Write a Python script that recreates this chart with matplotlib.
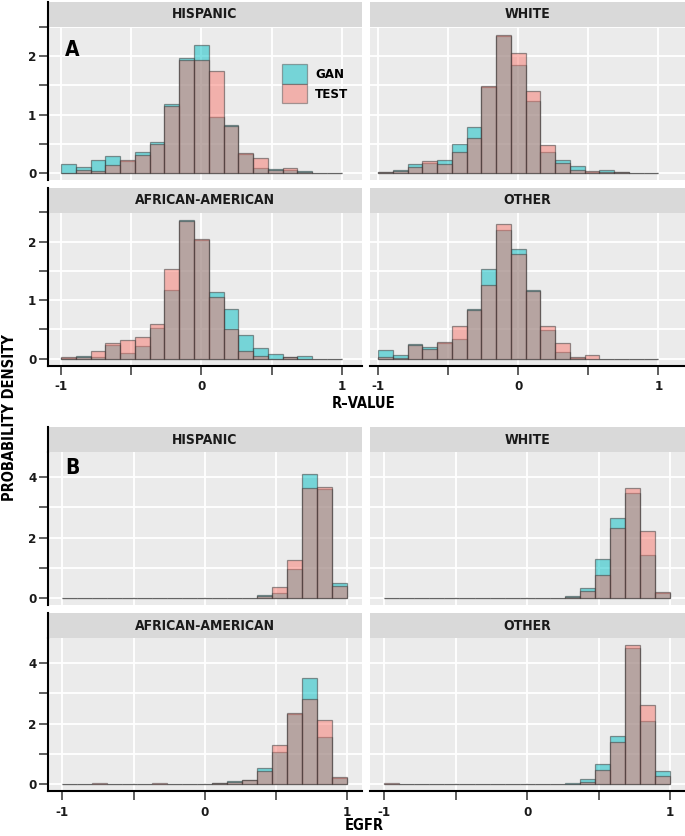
import numpy as np
import matplotlib.pyplot as plt
from matplotlib.patches import Patch

plt.rcParams['font.family'] = ['DejaVu Sans']
plt.rcParams['font.stretch'] = 'condensed'
plt.rcParams['font.weight'] = 'bold'

# 19 bins between -1 and 1
edges = np.linspace(-1, 1, 20)

# Panel A: R-value densities
r_hisp_gan = [0.155, 0.10, 0.217, 0.286, 0.206, 0.366, 0.537, 1.19, 1.966, 2.19,
              0.954, 0.829, 0.32, 0.09, 0.069, 0.057, 0.034, 0.0, 0.0]
r_hisp_test = [0.005, 0.06, 0.04, 0.137, 0.217, 0.309, 0.49, 1.14, 1.943, 1.943,
               1.743, 0.806, 0.349, 0.251, 0.057, 0.09, 0.02, 0.0, 0.0]
r_white_gan = [0.023, 0.05, 0.16, 0.166, 0.217, 0.49, 0.783, 1.47, 2.35, 1.846,
               1.229, 0.354, 0.217, 0.12, 0.025, 0.046, 0.023, 0.003, 0.0]
r_white_test = [0.01, 0.04, 0.10, 0.21, 0.149, 0.354, 0.606, 1.486, 2.36, 2.057,
                1.40, 0.474, 0.166, 0.057, 0.03, 0.023, 0.017, 0.003, 0.0]
r_afr_gan = [0.005, 0.05, 0.023, 0.23, 0.10, 0.217, 0.52, 1.177, 2.377, 2.029,
             1.143, 0.846, 0.406, 0.183, 0.08, 0.02, 0.046, 0.0, 0.0]
r_afr_test = [0.023, 0.03, 0.13, 0.27, 0.326, 0.377, 0.594, 1.53, 2.349, 2.051,
              1.057, 0.509, 0.131, 0.046, 0.0, 0.03, 0.0, 0.0, 0.0]
r_other_gan = [0.154, 0.057, 0.251, 0.20, 0.263, 0.331, 0.851, 1.526, 2.194, 1.88,
               1.166, 0.491, 0.114, 0.011, 0.0, 0.0, 0.0, 0.0, 0.0]
r_other_test = [0.034, 0.005, 0.234, 0.166, 0.286, 0.554, 0.823, 1.263, 2.297, 1.783,
                1.149, 0.554, 0.263, 0.023, 0.057, 0.0, 0.0, 0.0, 0.0]

# Panel B: EGFR densities
e_hisp_gan = [0, 0, 0, 0, 0, 0, 0, 0, 0, 0.01,
              0, 0, 0.01, 0.09, 0.176, 0.948, 4.11, 3.625, 0.507]
e_hisp_test = [0, 0, 0, 0, 0, 0, 0, 0, 0, 0.01,
               0, 0, 0.01, 0.08, 0.375, 1.267, 3.647, 3.68, 0.408]
e_white_gan = [0, 0, 0, 0, 0, 0, 0, 0, 0, 0,
               0, 0.01, 0.066, 0.32, 1.30, 2.656, 3.482, 1.432, 0.165]
e_white_test = [0, 0, 0, 0, 0, 0, 0, 0, 0, 0,
                0, 0.005, 0.033, 0.22, 0.77, 2.325, 3.647, 2.226, 0.198]
e_afr_gan = [0, 0, 0, 0, 0, 0, 0, 0, 0, 0,
             0.02, 0.10, 0.14, 0.54, 1.058, 2.336, 3.526, 1.565, 0.198]
e_afr_test = [0, 0, 0.02, 0, 0, 0, 0.02, 0, 0, 0,
              0.02, 0.066, 0.145, 0.43, 1.278, 2.358, 2.81, 2.127, 0.22]
e_other_gan = [0, 0, 0, 0, 0, 0, 0, 0, 0, 0,
               0, 0, 0.033, 0.165, 0.661, 1.576, 4.507, 2.083, 0.43]
e_other_test = [0.02, 0, 0, 0, 0, 0, 0, 0, 0, 0,
                0, 0, 0.01, 0.077, 0.463, 1.40, 4.606, 2.623, 0.264]

groups = ['HISPANIC', 'WHITE', 'AFRICAN-AMERICAN', 'OTHER']
series = ['GAN', 'TEST']

GAN_COLOR = '#00BFC4'
TEST_COLOR = '#F8766D'
W, H = 685, 836

fig = plt.figure(figsize=(W / 100, H / 100), dpi=100)
fig.patch.set_facecolor('white')


def px_axes(x0, y0, x1, y1):
    return fig.add_axes([x0 / W, 1 - y1 / H, (x1 - x0) / W, (y1 - y0) / H])


def panel(box, strip_box, title, gan, test, xlim, ylim, yticks, ylabels,
          left_col, bottom_row):
    ax = px_axes(*box)
    ax.set_facecolor('#EBEBEB')
    ax.bar(edges[:-1], gan, width=np.diff(edges), align='edge',
           color=GAN_COLOR, alpha=0.5, edgecolor='#333333', linewidth=0.9, zorder=2)
    ax.bar(edges[:-1], test, width=np.diff(edges), align='edge',
           color=TEST_COLOR, alpha=0.5, edgecolor='#333333', linewidth=0.9, zorder=3)
    ax.set_xlim(*xlim)
    ax.set_ylim(*ylim)
    ax.set_xticks([-1, -0.5, 0, 0.5, 1])
    ax.set_yticks(yticks)
    ax.grid(True, color='white', linewidth=1.3, zorder=0)
    ax.set_axisbelow(True)
    for s in ax.spines.values():
        s.set_visible(False)
    ax.tick_params(axis='both', length=6.5, width=1.1, color='#333333',
                   labelsize=9.5, pad=2, labelcolor='#1a1a1a')
    if left_col:
        ax.spines['left'].set_visible(True)
        ax.spines['left'].set_linewidth(1.5)
        ax.set_yticklabels(ylabels)
    else:
        ax.tick_params(axis='y', left=False, labelleft=False)
    if bottom_row:
        ax.spines['bottom'].set_visible(True)
        ax.spines['bottom'].set_linewidth(1.5)
        ax.set_xticklabels(['-1', '', '0', '', '1'])
        ax.tick_params(axis='x', pad=4)
    else:
        ax.tick_params(axis='x', bottom=False, labelbottom=False)

    st = px_axes(*strip_box)
    st.set_facecolor('#D9D9D9')
    st.set_xticks([])
    st.set_yticks([])
    for s in st.spines.values():
        s.set_visible(False)
    if left_col:
        st.spines['left'].set_visible(True)
        st.spines['left'].set_linewidth(1.5)
    st.text(0.5, 0.5, title, ha='center', va='center', fontsize=10,
            fontweight='bold', color='#1a1a1a', transform=st.transAxes)
    return ax


# column/row boxes in pixels
cols = [(48.3, 361.7), (370, 685)]
a_rows = [(27, 180), (212.5, 365.5)]
a_strips = [(2, 27), (187.5, 212.5)]
b_rows = [(452, 605), (638, 791)]
b_strips = [(427, 452), (613, 638)]

r_data = [(r_hisp_gan, r_hisp_test), (r_white_gan, r_white_test),
          (r_afr_gan, r_afr_test), (r_other_gan, r_other_test)]
e_data = [(e_hisp_gan, e_hisp_test), (e_white_gan, e_white_test),
          (e_afr_gan, e_afr_test), (e_other_gan, e_other_test)]

a_xlims = [(-1.0905, 1.1425), (-1.059, 1.19)]
b_xlims = [(-1.098, 1.101), (-1.1, 1.105)]

a_axes = []
for i, g in enumerate(groups):
    r, c = divmod(i, 2)
    ax = panel((cols[c][0], a_rows[r][0], cols[c][1], a_rows[r][1]),
               (cols[c][0], a_strips[r][0], cols[c][1], a_strips[r][1]),
               g, r_data[i][0], r_data[i][1], a_xlims[c], (-0.119, 2.496),
               [0, 0.5, 1, 1.5, 2, 2.5], ['0', '', '1', '', '2', ''],
               c == 0, r == 1)
    a_axes.append(ax)

for i, g in enumerate(groups):
    r, c = divmod(i, 2)
    panel((cols[c][0], b_rows[r][0], cols[c][1], b_rows[r][1]),
          (cols[c][0], b_strips[r][0], cols[c][1], b_strips[r][1]),
          g, e_data[i][0], e_data[i][1], b_xlims[c], (-0.23, 4.836),
          [0, 1, 2, 3, 4], ['0', '', '2', '', '4'],
          c == 0, r == 1)

# legend inside first panel
handles = [Patch(facecolor=GAN_COLOR, alpha=0.5, edgecolor='#555555', linewidth=0.9),
           Patch(facecolor=TEST_COLOR, alpha=0.5, edgecolor='#555555', linewidth=0.9)]
a_axes[0].legend(handles, series, loc='upper left', bbox_to_anchor=(0.746, 0.758),
                 frameon=False, fontsize=9.5, handlelength=1.9, handleheight=1.9,
                 labelspacing=0, borderpad=0, borderaxespad=0, handletextpad=0.6)

# panel letters and titles
fig.text(72 / W, 1 - 50 / H, 'A', fontsize=15, fontweight='bold', ha='center', va='center')
fig.text(72 / W, 1 - 468 / H, 'B', fontsize=15, fontweight='bold', ha='center', va='center')
fig.text(364 / W, 1 - 404 / H, 'R\u2013VALUE', fontsize=10.5, fontweight='bold',
         ha='center', va='center')
fig.text(364 / W, 1 - 826 / H, 'EGFR', fontsize=10.5, fontweight='bold',
         ha='center', va='center')
fig.text(10 / W, 1 - 418 / H, 'PROBABILITY DENSITY', fontsize=10.5, fontweight='bold',
         ha='center', va='center', rotation=90)

fig.savefig('out.png', dpi=100)
